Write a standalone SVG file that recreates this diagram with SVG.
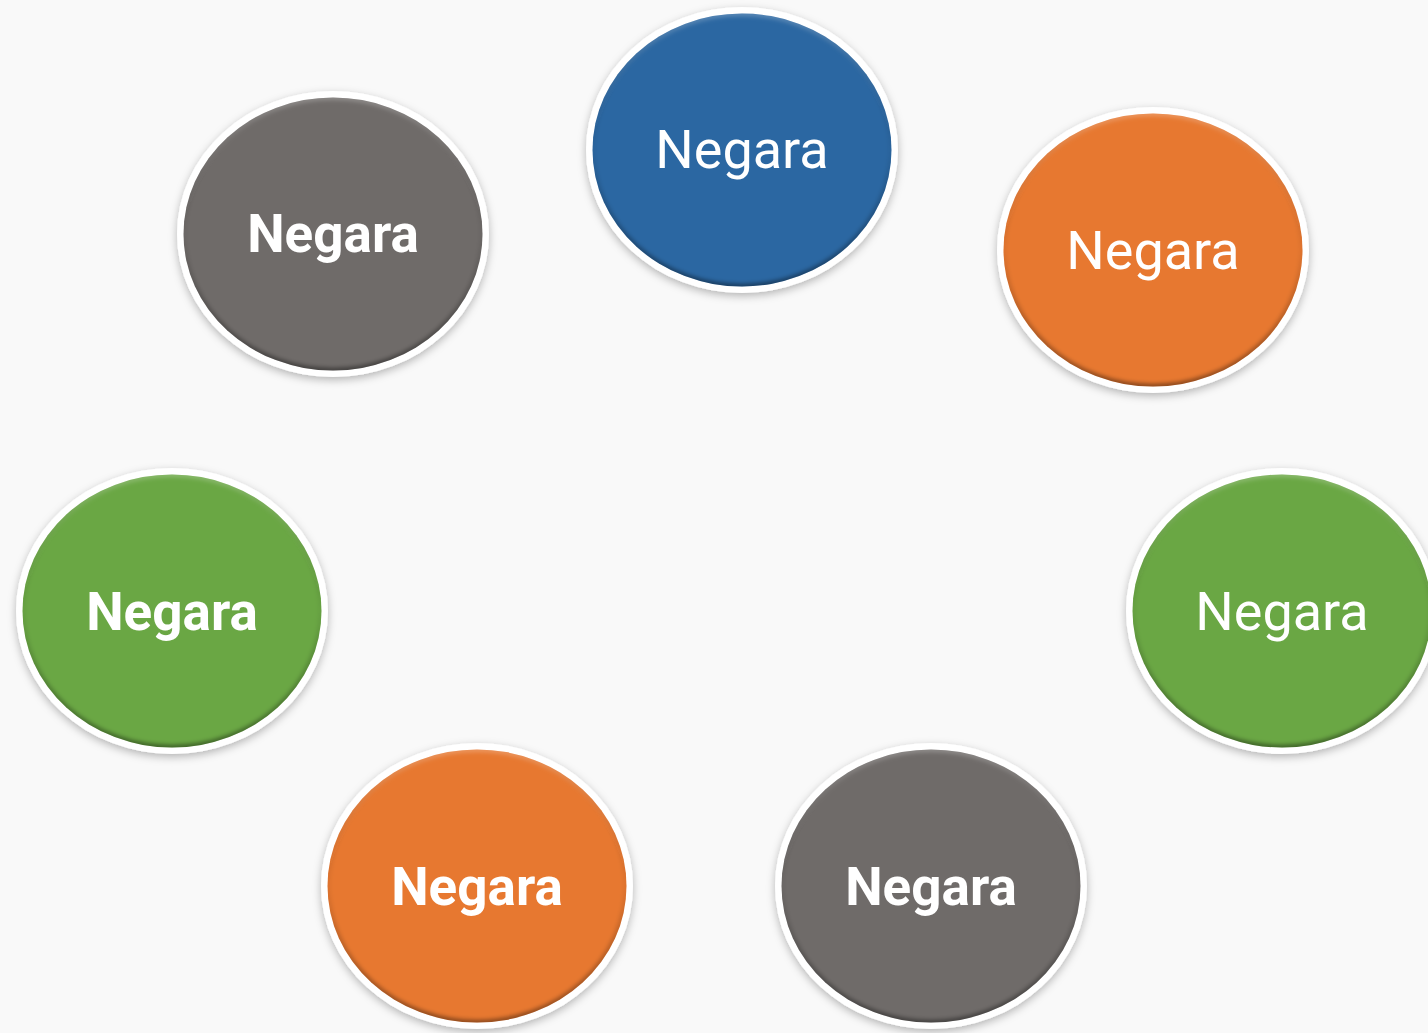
<svg xmlns="http://www.w3.org/2000/svg" width="1428" height="1033" viewBox="0 0 1428 1033">
<defs>
<filter id="shadow" x="-20%" y="-20%" width="140%" height="140%">
<feDropShadow dx="0" dy="3" stdDeviation="4" flood-color="#000" flood-opacity="0.28"/>
</filter>
<filter id="soft" x="-10%" y="-10%" width="120%" height="120%">
<feGaussianBlur stdDeviation="2"/>
</filter>
<linearGradient id="bev" x1="0" y1="0" x2="0" y2="1">
<stop offset="0" stop-color="#fff" stop-opacity="0.25"/>
<stop offset="0.5" stop-color="#000" stop-opacity="0.05"/>
<stop offset="1" stop-color="#000" stop-opacity="0.45"/>
</linearGradient>
<clipPath id="inner"><ellipse rx="149.5" ry="136.5"/></clipPath>
<style>
.ring{fill:#ffffff;filter:url(#shadow)}
.bevel{fill:none;stroke:url(#bev);stroke-width:5;filter:url(#soft)}
.blue{fill:#2b67a2}
.gray{fill:#6f6b69}
.orange{fill:#e77830}
.green{fill:#6aa744}
.lbl{fill:#ffffff;font-family:Roboto,"Liberation Sans",sans-serif;font-size:54px;text-anchor:middle}
.b{font-weight:bold;font-size:53px}
</style>
</defs>
<rect width="1428" height="1033" fill="#f9f9f9"/>
<g id="connectors"></g>
<g id="n-top" transform="translate(742,150)">
<ellipse class="ring" rx="156" ry="143"/>
<ellipse class="blue" rx="149.5" ry="136.5"/>
<ellipse class="bevel" rx="149.5" ry="136.5" clip-path="url(#inner)"/>
<text class="lbl" y="18">Negara</text>
</g>
<g id="n-topleft" transform="translate(333,234)">
<ellipse class="ring" rx="156" ry="143"/>
<ellipse class="gray" rx="149.5" ry="136.5"/>
<ellipse class="bevel" rx="149.5" ry="136.5" clip-path="url(#inner)"/>
<text class="lbl b" y="18">Negara</text>
</g>
<g id="n-topright" transform="translate(1153,250)">
<ellipse class="ring" rx="156" ry="143"/>
<ellipse class="orange" rx="149.5" ry="136.5"/>
<ellipse class="bevel" rx="149.5" ry="136.5" clip-path="url(#inner)"/>
<text class="lbl" y="19">Negara</text>
</g>
<g id="n-left" transform="translate(172,611)">
<ellipse class="ring" rx="156" ry="143"/>
<ellipse class="green" rx="149.5" ry="136.5"/>
<ellipse class="bevel" rx="149.5" ry="136.5" clip-path="url(#inner)"/>
<text class="lbl b" y="19">Negara</text>
</g>
<g id="n-right" transform="translate(1282,611)">
<ellipse class="ring" rx="156" ry="143"/>
<ellipse class="green" rx="149.5" ry="136.5"/>
<ellipse class="bevel" rx="149.5" ry="136.5" clip-path="url(#inner)"/>
<text class="lbl" y="19">Negara</text>
</g>
<g id="n-bottomleft" transform="translate(477,886)">
<ellipse class="ring" rx="156" ry="143"/>
<ellipse class="orange" rx="149.5" ry="136.5"/>
<ellipse class="bevel" rx="149.5" ry="136.5" clip-path="url(#inner)"/>
<text class="lbl b" y="19">Negara</text>
</g>
<g id="n-bottomright" transform="translate(931,886)">
<ellipse class="ring" rx="156" ry="143"/>
<ellipse class="gray" rx="149.5" ry="136.5"/>
<ellipse class="bevel" rx="149.5" ry="136.5" clip-path="url(#inner)"/>
<text class="lbl b" y="19">Negara</text>
</g>
</svg>
